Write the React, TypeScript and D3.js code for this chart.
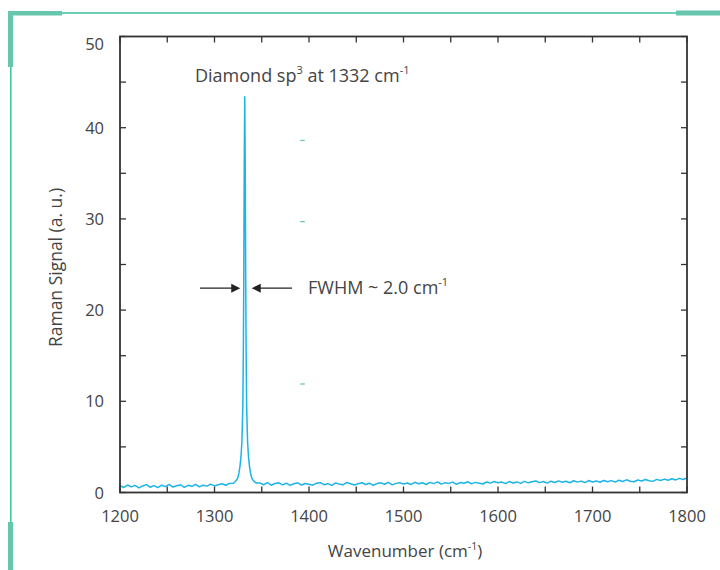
import React from "react";
import * as d3 from "d3";

// ---- data ----
const leftStart = 1200;
const baselineStep = 4;
const leftSignal = [
  0.75, 0.55, 0.82, 0.62, 0.78, 0.5, 0.72, 0.86, 0.58, 0.76,
  0.54, 0.8, 0.64, 0.88, 0.6, 0.74, 0.85, 0.57, 0.79, 0.68,
  0.9, 0.62, 0.8, 0.7, 0.92, 0.72, 0.84, 0.96, 0.8, 1.0,
];
const peakWavenumbers = [
  1320, 1322, 1324, 1325, 1326, 1327, 1328, 1329, 1330, 1330.5, 1331, 1331.5,
  1332, 1332.5, 1333, 1333.5, 1334, 1335, 1336, 1337, 1338, 1339, 1340, 1342, 1344,
];
const peakSignal = [
  1.02, 1.2, 1.45, 1.75, 2.2, 2.9, 3.9, 5.6, 9.5, 15, 24, 36,
  43.4, 36, 24, 15, 9.5, 5.6, 3.9, 2.9, 2.2, 1.75, 1.45, 1.2, 1.05,
];
const rightStart = 1348;
const rightSignal = [
  1.05, 0.85, 1.08, 0.8, 0.98, 1.06, 0.84, 1.02, 0.78, 0.96, 1.06, 0.82, 0.99, 0.9,
  0.8, 1.02, 1.08, 0.86, 0.97, 0.78, 1.04, 0.92, 0.84, 1.1, 0.96, 0.82, 0.97, 1.07, 0.88, 1.02, 0.79, 0.98, 1.06, 0.9, 1.11, 0.84, 1.0, 1.08, 0.93,
  1.04, 0.88, 1.12, 0.96, 1.07, 0.88, 1.11, 0.97, 1.16, 0.92, 1.08, 1.0, 1.14, 0.9, 1.09, 1.01, 1.18, 0.95, 1.11, 1.02, 0.93, 1.15, 1.03, 1.2, 1.06,
  1.14, 0.98, 1.2, 1.04, 1.16, 1.0, 1.22, 1.06, 1.18, 1.26, 1.08, 1.2, 1.03, 1.24, 1.1, 1.27, 1.12, 1.24, 1.07, 1.29, 1.14, 1.25, 1.09, 1.31, 1.16,
  1.27, 1.12, 1.32, 1.18, 1.3, 1.14, 1.34, 1.21, 1.39, 1.24, 1.18, 1.37, 1.26, 1.42, 1.28, 1.22, 1.44, 1.32, 1.47, 1.34, 1.5, 1.38, 1.55, 1.42, 1.6,
];
const xTickLabels = [1200, 1300, 1400, 1500, 1600, 1700, 1800];
const yTickLabels = [0, 10, 20, 30, 40, 50];
const peakCenter = 1332;
const fwhmLevel = 22.4;
const fwhm = 2.0;
const greenMarks = [38.6, 29.7, 11.9];
const greenMarkX = 1395;

const W = 720, H = 570;
const M = { left: 120, right: 687, top: 36.5, bottom: 492.5 };
const FONT = "'Open Sans', sans-serif";
const TXT = "#444";
const LINE = "#1cb4e6";
const THICK = "#66c6ae";
const THIN = "#3cbf9d";

export default function App() {
  const x = d3.scaleLinear().domain([1200, 1800]).range([M.left, M.right]);
  const y = d3.scaleLinear().domain([0, 50]).range([M.bottom, M.top]);

  const pts: [number, number][] = [];
  leftSignal.forEach((v, i) => pts.push([leftStart + i * baselineStep, v]));
  peakWavenumbers.forEach((w, i) => pts.push([w, peakSignal[i]]));
  rightSignal.forEach((v, i) => pts.push([rightStart + i * baselineStep, v]));
  const line = d3.line<[number, number]>().x((d) => x(d[0])).y((d) => y(d[1]));

  const xMinor = d3.range(1200, 1801, 50);
  const yMinor = d3.range(0, 51, 5);
  const T = 6;

  const yA = y(fwhmLevel);
  const leftTip = x(peakCenter) - 4.5;
  const rightTip = x(peakCenter) + 7;

  return (
    <svg width={W} height={H} style={{ position: "absolute", left: 0, top: 0, background: "#fff" }}>
      {/* decorative frame */}
      <line x1={62} x2={720} y1={13} y2={13} stroke={THIN} strokeWidth={1.5} />
      <rect x={8} y={11} width={54} height={4.5} fill={THICK} />
      <rect x={8} y={11} width={5} height={56} fill={THICK} />
      <line x1={10.8} x2={10.8} y1={67} y2={522} stroke={THIN} strokeWidth={1.5} />
      <rect x={8} y={522} width={5} height={48} fill={THICK} />
      <rect x={676} y={10.5} width={44} height={5} fill={THICK} />

      {/* ticks */}
      <g stroke="#333" strokeWidth={1.3}>
        {xMinor.map((v) => (
          <g key={"x" + v}>
            <line x1={x(v)} x2={x(v)} y1={M.bottom} y2={M.bottom - T} />
            <line x1={x(v)} x2={x(v)} y1={M.top} y2={M.top + T} />
          </g>
        ))}
        {yMinor.map((v) => (
          <g key={"y" + v}>
            <line x1={M.left} x2={M.left + T} y1={y(v)} y2={y(v)} />
            <line x1={M.right} x2={M.right - T} y1={y(v)} y2={y(v)} />
          </g>
        ))}
      </g>

      {/* spectrum */}
      <path d={line(pts) || ""} fill="none" stroke={LINE} strokeWidth={1.5} strokeLinejoin="round" />

      {/* frame */}
      <rect x={M.left} y={M.top} width={M.right - M.left} height={M.bottom - M.top} fill="none" stroke="#333" strokeWidth={1.8} />

      {/* small green marks */}
      {greenMarks.map((v) => (
        <line key={v} x1={x(greenMarkX) - 4} x2={x(greenMarkX) + 0.5} y1={y(v)} y2={y(v)} stroke={THICK} strokeWidth={1.3} />
      ))}

      {/* tick labels */}
      <g fontFamily={FONT} fontSize={16.5} fill={TXT}>
        {xTickLabels.map((v) => (
          <text key={v} x={x(v)} y={522} textAnchor="middle">{v}</text>
        ))}
        {yTickLabels.map((v) => (
          <text key={v} x={104} y={v === 50 ? 50 : y(v) + 6} textAnchor="end">{v}</text>
        ))}
      </g>

      {/* axis titles */}
      <text x={405} y={557} textAnchor="middle" fontFamily={FONT} fontSize={17} fill={TXT}>
        Wavenumber (cm<tspan dy={-7} fontSize={10.5}>-1</tspan><tspan dy={7}>)</tspan>
      </text>
      <text transform={`translate(62,${(M.top + M.bottom) / 2 + 3}) rotate(-90)`} textAnchor="middle" fontFamily={FONT} fontSize={17.5} fill={TXT}>
        Raman Signal (a. u.)
      </text>

      {/* annotations */}
      <text x={195} y={82} fontFamily={FONT} fontSize={18} fill={TXT}>
        Diamond sp<tspan dy={-8} fontSize={11}>3</tspan><tspan dy={8}> at 1332 cm</tspan><tspan dy={-8} fontSize={11}>-1</tspan>
      </text>
      <text x={308} y={yA + 6} fontFamily={FONT} fontSize={18} fill={TXT}>
        FWHM ~ {fwhm.toFixed(1)} cm<tspan dy={-8} fontSize={11}>-1</tspan>
      </text>

      {/* arrows */}
      <g stroke="#222" strokeWidth={1.3} fill="#222">
        <line x1={200} x2={leftTip - 8} y1={yA} y2={yA} />
        <path d={`M${leftTip},${yA} L${leftTip - 9},${yA - 4.5} L${leftTip - 9},${yA + 4.5} Z`} stroke="none" />
        <line x1={rightTip + 8} x2={292} y1={yA} y2={yA} />
        <path d={`M${rightTip},${yA} L${rightTip + 9},${yA - 4.5} L${rightTip + 9},${yA + 4.5} Z`} stroke="none" />
      </g>
    </svg>
  );
}
